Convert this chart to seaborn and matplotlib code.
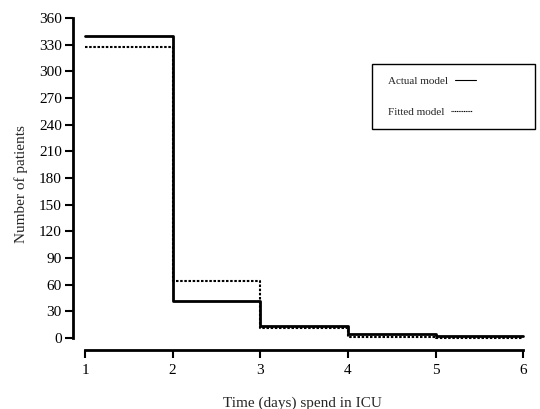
import numpy as np
import pandas as pd
import matplotlib
matplotlib.use("Agg")
import matplotlib.pyplot as plt
import seaborn as sns
from matplotlib.lines import Line2D
from matplotlib.patches import Rectangle

# Values (patients per day interval)
days = [1, 2, 3, 4, 5]
actual = [340, 42, 13, 4, 2]
fitted = [327, 64, 11, 1, 0]
yticks = list(range(0, 361, 30))
xticks = [1, 2, 3, 4, 5, 6]

# step-post needs the end point repeated
x_steps = days + [6]
df = pd.DataFrame({
    "day": x_steps,
    "Actual model": actual + [actual[-1]],
    "Fitted model": fitted + [fitted[-1]],
})

sns.set_theme(style="ticks")
plt.rcParams['font.family'] = ['Liberation Serif', 'DejaVu Serif']

W, H = 540, 409
fig = plt.figure(figsize=(W / 100, H / 100), dpi=100)
ax = fig.add_axes([73 / W, 1 - 350 / H, (532 - 73) / W, (350 - 18) / H])

sns.lineplot(data=df, x="day", y="Fitted model", ax=ax, drawstyle="steps-post",
             color="black", lw=1.5, linestyle=(0, (1.2, 0.8)))
sns.lineplot(data=df, x="day", y="Actual model", ax=ax, drawstyle="steps-post",
             color="black", lw=2)

ax.set_xlim(0.863, 6.1)
ax.set_ylim(-13.5, 360)
ax.set_yticks(yticks)
ax.set_xticks(xticks)

# detached axes like the original
for s in ["top", "right"]:
    ax.spines[s].set_visible(False)
ax.spines["left"].set_bounds(0, 360)
ax.spines["bottom"].set_bounds(1, 6)
for s in ["left", "bottom"]:
    ax.spines[s].set_linewidth(2)
    ax.spines[s].set_color("black")
ax.tick_params(axis="both", direction="out", length=6, width=1.5, colors="black",
               labelsize=11)
ax.tick_params(axis="y", pad=2)
ax.tick_params(axis="x", pad=4)

ax.set_ylabel("Number of patients", fontsize=11, labelpad=8)
ax.set_xlabel("Time (days) spend in ICU", fontsize=11, labelpad=14)

# legend box: wide frame with text on the left, short line samples after
fig.patches.append(Rectangle((372 / W, 1 - 129 / H), 163 / W, 65 / H,
                             transform=fig.transFigure, fill=False,
                             edgecolor="black", lw=1))
handles = [Line2D([], [], color="black", lw=0.8),
           Line2D([], [], color="black", lw=0.8, linestyle=(0, (1, 0.6)))]
leg = fig.legend(handles, ["Actual model", "Fitted model"], loc="upper left",
                 bbox_to_anchor=(388 / W, 1 - 76 / H), bbox_transform=fig.transFigure,
                 markerfirst=False, handlelength=1.9, handletextpad=0.6,
                 frameon=False, fontsize=8, borderpad=0, labelspacing=1.9,
                 borderaxespad=0)
for col in leg._legend_handle_box.get_children():
    col.align = "left"

plt.savefig("out.png", dpi=100)
